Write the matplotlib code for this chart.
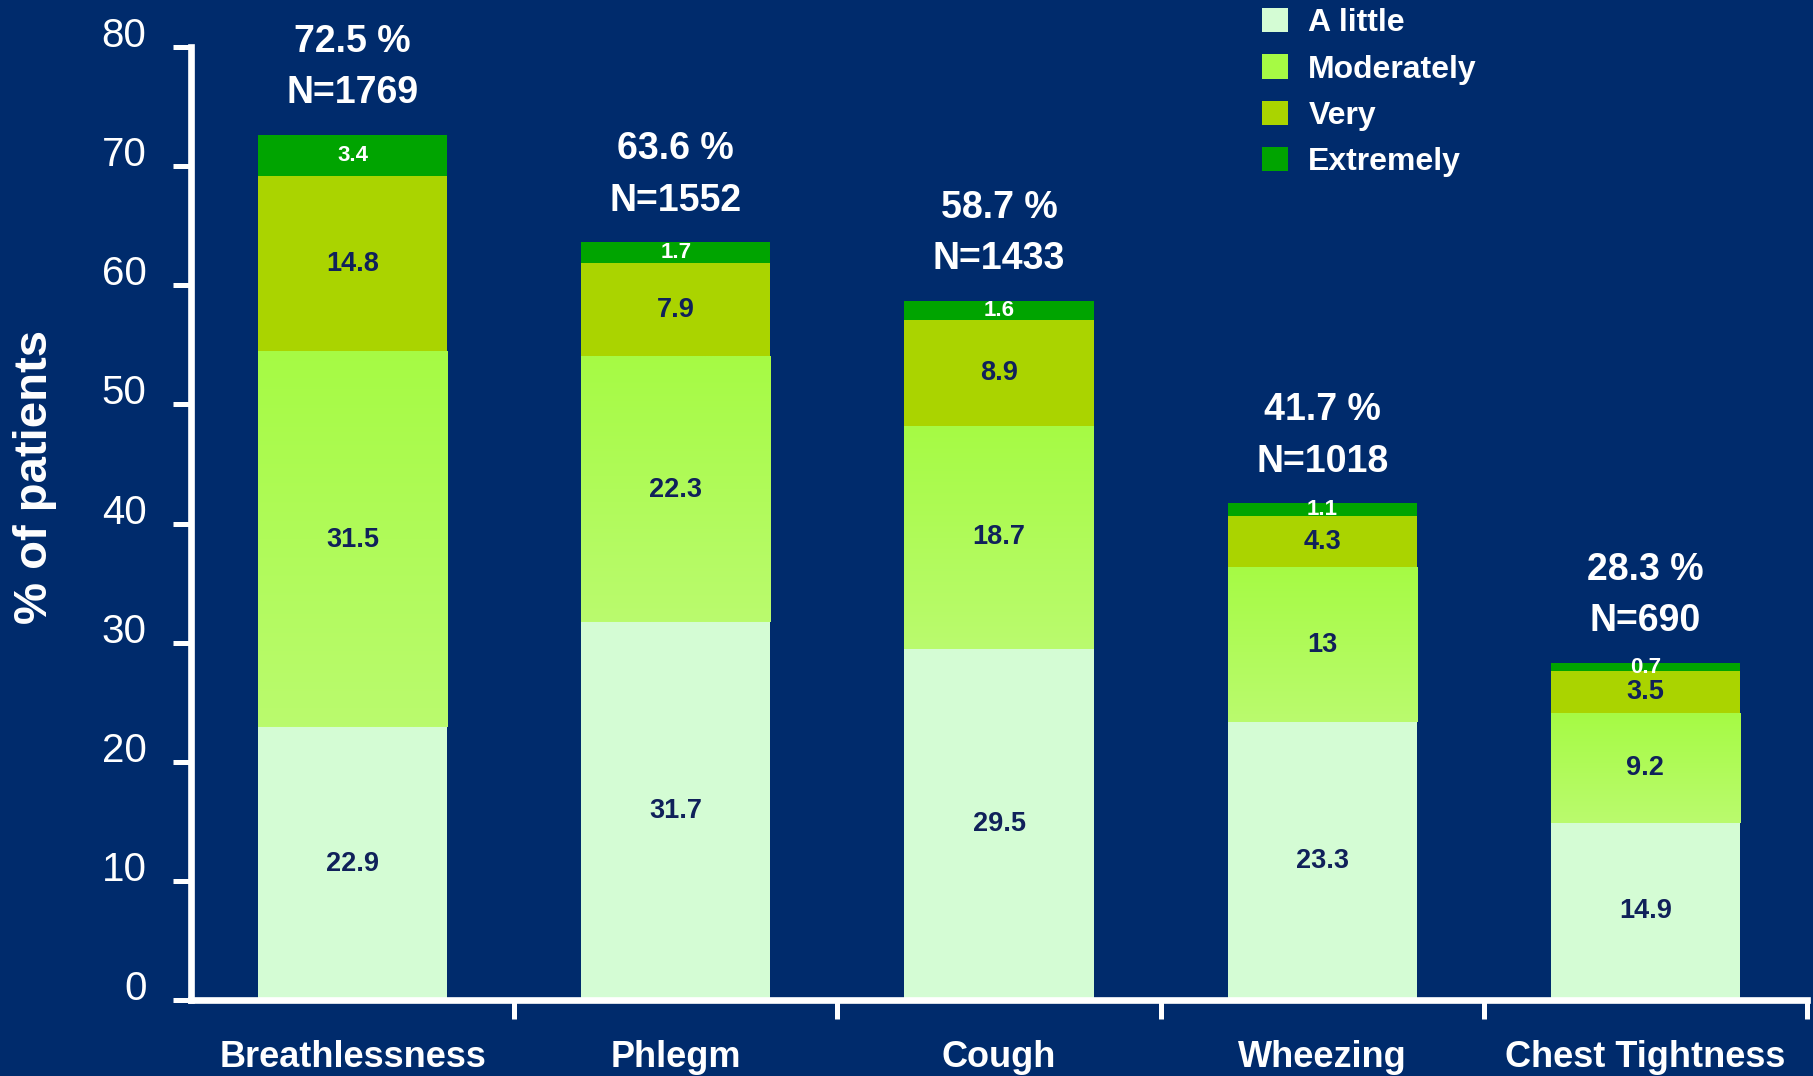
import numpy as np
import matplotlib
matplotlib.use("Agg")
import matplotlib.pyplot as plt
from matplotlib.colors import LinearSegmentedColormap
from matplotlib.patches import Patch
from matplotlib.transforms import ScaledTranslation

plt.rcParams["font.family"] = ["Liberation Sans", "DejaVu Sans"]

# Symptom categories and severity breakdown (% of patients)
symptoms = ["Breathlessness", "Phlegm", "Cough", "Wheezing", "Chest Tightness"]
a_little = [22.9, 31.7, 29.5, 23.3, 14.9]
moderately = [31.5, 22.3, 18.7, 13.0, 9.2]
very = [14.8, 7.9, 8.9, 4.3, 3.5]
extremely = [3.4, 1.7, 1.6, 1.1, 0.7]
total_pct = [72.5, 63.6, 58.7, 41.7, 28.3]
n_patients = [1769, 1552, 1433, 1018, 690]
severity_labels = ["A little", "Moderately", "Very", "Extremely"]
y_ticks = [0, 10, 20, 30, 40, 50, 60, 70, 80]

BG = "#002b6c"
NAVY_TEXT = "#10215a"
C_LITTLE = "#d4fcd4"
C_MOD_TOP = "#a6fa44"
C_MOD_BOTTOM = "#bafb6e"
C_VERY = "#aad400"
C_EXTREME = "#00a400"

W, H = 1813, 1076
fig = plt.figure(figsize=(W / 100, H / 100), dpi=100, facecolor=BG)
ax = fig.add_axes([191 / W, 1 - 1000 / H, (1807 - 191) / W, (1000 - 47) / H])
ax.set_facecolor(BG)

x = np.arange(len(symptoms))
bar_w = 0.585
series = [a_little, moderately, very, extremely]
colors = [C_LITTLE, C_MOD_TOP, C_VERY, C_EXTREME]

bottoms = np.zeros(len(symptoms))
containers = []
for vals, col in zip(series, colors):
    vals = np.asarray(vals, dtype=float)
    bc = ax.bar(x, vals, bar_w, bottom=bottoms, color=col, linewidth=0, zorder=1)
    containers.append((bc, vals, bottoms.copy()))
    bottoms = bottoms + vals

# vertical gradient on the "Moderately" segments
grad_cmap = LinearSegmentedColormap.from_list("mod", [C_MOD_BOTTOM, C_MOD_TOP])
grad = np.linspace(0, 1, 256).reshape(-1, 1)
for rect in containers[1][0]:
    x0, y0 = rect.get_x(), rect.get_y()
    ax.imshow(grad, extent=(x0, x0 + rect.get_width(), y0, y0 + rect.get_height()),
              origin="lower", aspect="auto", cmap=grad_cmap, zorder=1.2,
              interpolation="bilinear")

# segment value labels
for k, (bc, vals, bots) in enumerate(containers):
    top_seg = (k == 3)
    for i, (v, b) in enumerate(zip(vals, bots)):
        ax.text(i, b + v / 2, f"{v:g}", ha="center", va="center",
                fontsize=16 if top_seg else 19.5, fontweight="bold",
                color="white" if top_seg else NAVY_TEXT, zorder=3)

# totals above the bars
for i, (p, n, t) in enumerate(zip(total_pct, n_patients, bottoms)):
    ax.annotate(f"N={n}", (i, t), xytext=(0, 30), textcoords="offset points",
                ha="center", va="center", fontsize=27, fontweight="bold", color="white")
    ax.annotate(f"{p} %", (i, t), xytext=(0, 67), textcoords="offset points",
                ha="center", va="center", fontsize=27, fontweight="bold", color="white")

ax.set_xlim(-0.5, len(symptoms) - 0.5)
ax.set_ylim(0, 80)

for side in ("top", "right"):
    ax.spines[side].set_visible(False)
for side in ("left", "bottom"):
    ax.spines[side].set_color("white")
    ax.spines[side].set_linewidth(4.8)
    ax.spines[side].set_zorder(4)

ax.set_yticks(y_ticks)
ax.set_yticklabels([str(t) for t in y_ticks])
ax.tick_params(axis="y", direction="out", length=13, width=3.6, color="white",
               labelcolor="white", labelsize=29, pad=19)
shift = ScaledTranslation(0, 15 / 100, fig.dpi_scale_trans)
for lab in ax.get_yticklabels():
    lab.set_transform(lab.get_transform() + shift)

ax.set_xticks(x)
ax.set_xticklabels(symptoms, fontsize=26, fontweight="bold", color="white")
ax.set_xticks(np.arange(len(symptoms)) + 0.5, minor=True)
ax.tick_params(axis="x", which="major", length=0, pad=29)
ax.tick_params(axis="x", which="minor", direction="out", length=14, width=3.6,
               color="white")

fig.text(35 / W, 1 - 477 / H, "% of patients", rotation=90, ha="center", va="center",
         fontsize=34, fontweight="bold", color="white")

handles = [Patch(facecolor=c, edgecolor="none") for c in
           [C_LITTLE, C_MOD_TOP, C_VERY, C_EXTREME]]
leg = fig.legend(handles, severity_labels, loc="upper left",
                 bbox_to_anchor=(1262 / W, 1 - 8 / H), frameon=False,
                 handlelength=0.8, handleheight=0.8, handletextpad=0.65,
                 labelspacing=0.5, borderpad=0, borderaxespad=0,
                 prop={"size": 23, "weight": "bold"})
for t in leg.get_texts():
    t.set_color("white")

fig.savefig("out.png", dpi=100, facecolor=BG)
